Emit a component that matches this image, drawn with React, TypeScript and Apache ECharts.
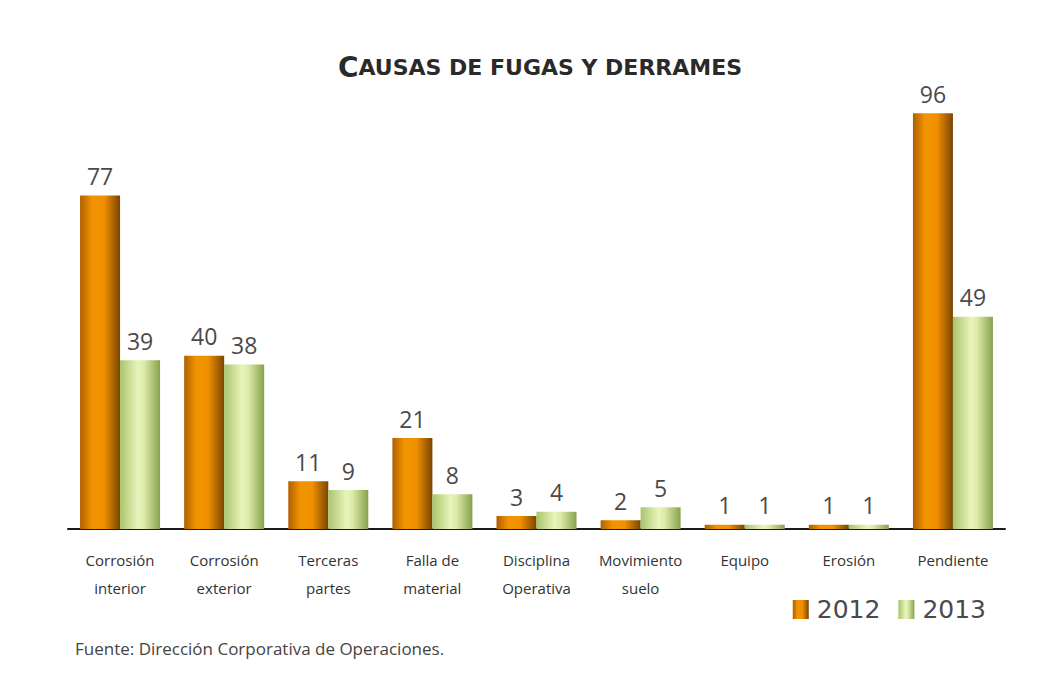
import React, { useEffect, useRef } from "react";
import * as echarts from "echarts";

const categories = [
  "Corrosión\ninterior",
  "Corrosión\nexterior",
  "Terceras\npartes",
  "Falla de\nmaterial",
  "Disciplina\nOperativa",
  "Movimiento\nsuelo",
  "Equipo",
  "Erosión",
  "Pendiente",
];
const values2012 = [77, 40, 11, 21, 3, 2, 1, 1, 96];
const values2013 = [39, 38, 9, 8, 4, 5, 1, 1, 49];
const seriesNames = ["2012", "2013"];
const titleText = "Causas de fugas y derrames";
const sourceText = "Fuente: Dirección Corporativa de Operaciones.";

const orangeGrad = new echarts.graphic.LinearGradient(0, 0, 1, 0, [
  { offset: 0, color: "#b05f00" },
  { offset: 0.3, color: "#f29400" },
  { offset: 0.6, color: "#f09000" },
  { offset: 1, color: "#7a4500" },
]);
const greenGrad = new echarts.graphic.LinearGradient(0, 0, 1, 0, [
  { offset: 0, color: "#a9c46c" },
  { offset: 0.45, color: "#e8f4bc" },
  { offset: 0.6, color: "#dcebaa" },
  { offset: 1, color: "#86a24a" },
]);

export default function App() {
  const ref = useRef<HTMLDivElement>(null);
  useEffect(() => {
    if (!ref.current) return;
    const chart = echarts.init(ref.current, null, { renderer: "svg" });
    const labelStyle = {
      show: true,
      position: "top" as const,
      distance: 8,
      fontSize: 23,
      color: "#4a4a4a",
      fontFamily: "Open Sans",
    };
    chart.setOption({
      animation: false,
      backgroundColor: "#ffffff",
      title: {
        text: "{big|C}{small|" + titleText.slice(1).toUpperCase() + "}",
        left: 535,
        top: 48,
        textAlign: "center",
        textStyle: {
          rich: {
            big: { fontSize: 28, fontWeight: "bold", color: "#2a2a2a", fontFamily: "DejaVu Sans" },
            small: { fontSize: 22, fontWeight: "bold", color: "#2a2a2a", fontFamily: "DejaVu Sans" },
          },
        },
      },
      legend: {
        data: seriesNames,
        right: 58,
        top: 592,
        itemWidth: 16,
        itemHeight: 19,
        itemGap: 18,
        icon: "rect",
        textStyle: { fontSize: 25, color: "#4a4a4a", fontFamily: "DejaVu Sans", padding: [0, 0, 0, 3] },
      },
      graphic: [
        {
          type: "text",
          left: 75,
          top: 640,
          style: { text: sourceText, fontSize: 17, fill: "#444", fontFamily: "Open Sans" },
        },
      ],
      grid: { left: 68, right: 44, top: 96, bottom: 152 },
      xAxis: {
        type: "category",
        data: categories,
        axisLine: { lineStyle: { color: "#1a1a1a", width: 2 } },
        axisTick: { show: false },
        axisLabel: {
          interval: 0,
          margin: 17,
          fontSize: 15,
          lineHeight: 28,
          color: "#333",
          fontFamily: "Open Sans",
        },
      },
      yAxis: {
        type: "value",
        min: 0,
        max: 100,
        show: false,
        splitLine: { show: false },
      },
      series: [
        {
          name: seriesNames[0],
          type: "bar",
          data: values2012,
          barWidth: 40,
          barGap: "0%",
          itemStyle: { color: orangeGrad },
          label: labelStyle,
        },
        {
          name: seriesNames[1],
          type: "bar",
          data: values2013,
          barWidth: 40,
          barGap: "0%",
          itemStyle: { color: greenGrad },
          label: labelStyle,
        },
      ],
    });
    return () => chart.dispose();
  }, []);
  return (
    <div
      ref={ref}
      style={{ position: "fixed", left: 0, top: 0, width: 1049, height: 681 }}
    />
  );
}
